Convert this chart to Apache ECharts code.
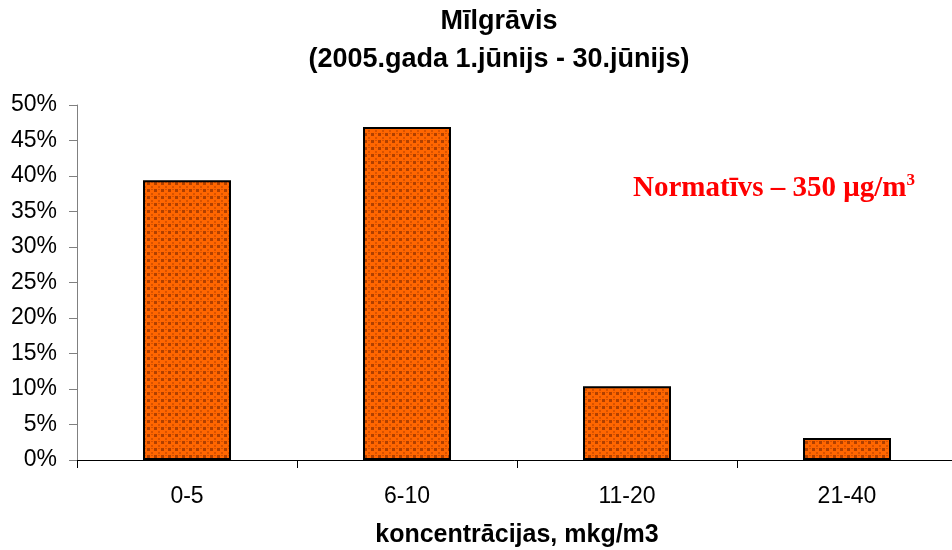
<!DOCTYPE html>
<html>
<head>
<meta charset="utf-8">
<script src="https://cdn.jsdelivr.net/npm/echarts@6/dist/echarts.min.js"></script>
<style>
  html, body { margin: 0; padding: 0; background: #fff; }
  #chart { width: 952px; height: 550px; }
</style>
</head>
<body>
<div id="chart"></div>
<script>
var categories = ['0-5', '6-10', '11-20', '21-40'];
var shares = [39.4, 46.9, 10.4, 3.1];
var yTicks = [0, 5, 10, 15, 20, 25, 30, 35, 40, 45, 50];

// orange / brown checker fill like the original
function makePattern() {
    var c = document.createElement('canvas');
    c.width = 7; c.height = 7;
    var ctx = c.getContext('2d');
    ctx.fillStyle = '#ff6600';
    ctx.fillRect(0, 0, 7, 7);
    ctx.fillStyle = '#b04000';
    ctx.fillRect(0, 0, 3, 3);
    ctx.fillStyle = '#d85200';
    ctx.fillRect(4, 4, 2, 2);
    ctx.fillRect(4, 0, 2, 1);
    return c;
}

var myChart = echarts.init(document.getElementById('chart'));

var option = {
    backgroundColor: '#fff',
    animation: false,
    title: {
        text: 'Mīlgrāvis\n(2005.gada 1.jūnijs - 30.jūnijs)',
        left: 494,
        textAlign: 'center',
        top: -2,
        textStyle: {
            fontFamily: 'Liberation Sans, Arial',
            fontWeight: 'bold',
            fontSize: 27,
            lineHeight: 38,
            color: '#000'
        }
    },
    grid: {
        left: 77,
        width: 880,
        top: 105,
        bottom: 90,
        outerBoundsMode: 'none'
    },
    xAxis: {
        type: 'category',
        data: categories,
        name: 'koncentrācijas, mkg/m3',
        nameLocation: 'middle',
        nameGap: 63,
        nameTextStyle: {
            fontFamily: 'Liberation Sans, Arial',
            fontWeight: 'bold',
            fontSize: 25,
            color: '#000'
        },
        axisLine: { lineStyle: { color: '#000', width: 1 } },
        axisTick: { show: true, length: 8, lineStyle: { color: '#000' } },
        axisLabel: {
            margin: 25,
            fontFamily: 'Liberation Sans, Arial',
            fontSize: 23,
            color: '#000'
        }
    },
    yAxis: {
        type: 'value',
        min: yTicks[0],
        max: yTicks[yTicks.length - 1],
        interval: 5,
        axisLine: { show: true, lineStyle: { color: '#808080', width: 1 } },
        axisTick: { show: true, length: 8, lineStyle: { color: '#808080' } },
        splitLine: { show: false },
        axisLabel: {
            margin: 20,
            fontFamily: 'Liberation Sans, Arial',
            fontSize: 23,
            color: '#000',
            formatter: function (value) {
                return value + '%';
            }
        }
    },
    series: [{
        type: 'bar',
        data: shares,
        barWidth: 88,
        itemStyle: {
            color: { image: makePattern(), repeat: 'repeat' },
            borderColor: '#000',
            borderWidth: 2
        }
    }],
    graphic: [{
        type: 'text',
        left: 633,
        top: 172,
        style: {
            text: '{a|Normatīvs – 350 μg/m}{s|3}',
            rich: {
                a: {
                    fontFamily: 'Liberation Serif, Times New Roman',
                    fontWeight: 'bold',
                    fontSize: 29,
                    fill: '#ff0000',
                    height: 34
                },
                s: {
                    fontFamily: 'Liberation Serif, Times New Roman',
                    fontWeight: 'bold',
                    fontSize: 17,
                    fill: '#ff0000',
                    verticalAlign: 'top',
                    padding: [0, 0, 13, 0]
                }
            }
        }
    }]
};

myChart.setOption(option);
window.onresize = myChart.resize;
</script>
</body>
</html>
